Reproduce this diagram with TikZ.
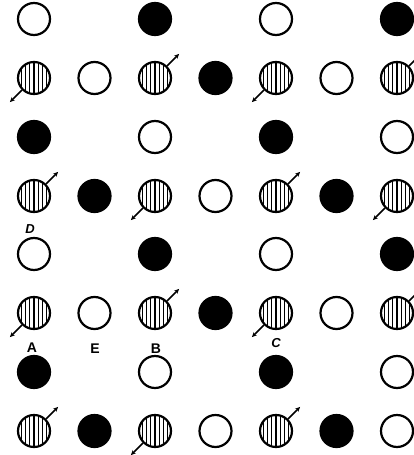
\documentclass[tikz,border=0pt]{standalone}
\usepackage{fontspec}
\setmainfont{Liberation Sans}
\usetikzlibrary{arrows.meta}

\begin{document}
\begin{tikzpicture}[x=1pt, y=1pt,
  site/.style={circle, draw, line width=2.2pt, minimum size=32pt, inner sep=0pt},
  hollow/.style={site},
  inked/.style={site, fill},
  striped/.style={site, path picture={
    \foreach \k in {-3,...,3}
      \draw[line width=1.1pt] ([xshift=\k*4.2pt]path picture bounding box.north) -- ([xshift=\k*4.2pt]path picture bounding box.south);}},
  spin/.style={-{Stealth[length=5pt,width=4.5pt]}, line width=1.6pt},
  tag/.style={font=\fontsize{14}{14}\selectfont\bfseries},
  slanted tag/.style={font=\fontsize{13}{13}\selectfont\bfseries\itshape}]
\useasboundingbox (0,0) rectangle (414,-455);

% odd rows: hollow and inked on columns 1,3,5,7
\foreach \c/\k in {1/hollow,3/inked,5/hollow,7/inked}
  \node[\k] (n1\c) at ({34+(\c-1)*60.5},-19) {};
\foreach \c/\k in {1/inked,3/hollow,5/inked,7/hollow}
  \node[\k] (n3\c) at ({34+(\c-1)*60.5},-137) {};
\foreach \c/\k in {1/hollow,3/inked,5/hollow,7/inked}
  \node[\k] (n5\c) at ({34+(\c-1)*60.5},-254) {};
\foreach \c/\k in {1/inked,3/hollow,5/inked,7/hollow}
  \node[\k] (n7\c) at ({34+(\c-1)*60.5},-372) {};

% even rows
\foreach \c/\k in {1/striped,2/hollow,3/striped,4/inked,5/striped,6/hollow,7/striped}
  \node[\k] (n2\c) at ({34+(\c-1)*60.5},-78) {};
\foreach \c/\k in {1/striped,2/inked,3/striped,4/hollow,5/striped,6/inked,7/striped}
  \node[\k] (n4\c) at ({34+(\c-1)*60.5},-196) {};
\foreach \c/\k in {1/striped,2/hollow,3/striped,4/inked,5/striped,6/hollow,7/striped}
  \node[\k] (n6\c) at ({34+(\c-1)*60.5},-313) {};
\foreach \c/\k in {1/striped,2/inked,3/striped,4/hollow,5/striped,6/inked,7/hollow}
  \node[\k] (n8\c) at ({34+(\c-1)*60.5},-431) {};

% spins
\foreach \n/\d in {21/225,23/45,25/225,27/45, 41/45,43/225,45/45,47/225,
                   61/225,63/45,65/225,67/45, 81/45,83/225,85/45} {
  \path (n\n.\d) ++(\d:17) coordinate (t\n);
  \draw[spin] (n\n.\d) -- (t\n);
}

\node[slanted tag] (d) at (30,-229) {D};
\node[tag] (a) at (32,-348) {A};
\node[tag] (e) at (95,-349) {E};
\node[tag] (b) at (156,-349) {B};
\node[slanted tag] (cc) at (276,-343) {C};
\end{tikzpicture}
\end{document}
